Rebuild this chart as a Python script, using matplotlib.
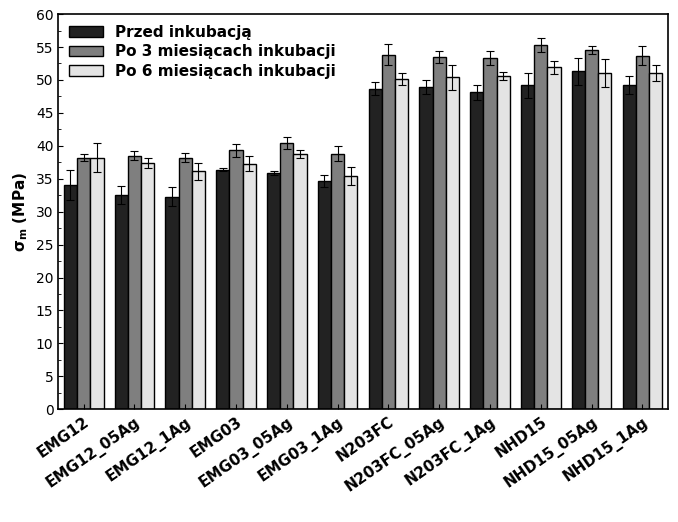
import matplotlib
matplotlib.use("Agg")
import matplotlib.pyplot as plt
import numpy as np

categories = ["EMG12","EMG12_05Ag","EMG12_1Ag","EMG03","EMG03_05Ag","EMG03_1Ag",
              "N203FC","N203FC_05Ag","N203FC_1Ag","NHD15","NHD15_05Ag","NHD15_1Ag"]
before = [34.1,32.5,32.3,36.4,35.9,34.7,48.7,48.9,48.1,49.2,51.3,49.2]
before_err = [2.3,1.4,1.4,0.3,0.3,0.9,1.0,1.1,1.1,1.9,2.0,1.4]
m3 = [38.2,38.5,38.2,39.3,40.4,38.8,53.8,53.5,53.3,55.3,54.6,53.7]
m3_err = [0.5,0.7,0.7,1.0,0.9,1.1,1.6,0.9,1.1,1.1,0.6,1.4]
m6 = [38.2,37.4,36.1,37.3,38.7,35.4,50.2,50.4,50.6,51.9,51.1,51.0]
m6_err = [2.2,0.8,1.3,1.1,0.6,1.4,0.9,1.9,0.6,1.0,2.1,1.2]
labels = ["Przed inkubacją","Po 3 miesiącach inkubacji","Po 6 miesiącach inkubacji"]
colors = ["#222222","#7f7f7f","#e4e4e4"]

fig = plt.figure(figsize=(6.78,5.22), dpi=100)
ax = fig.add_axes([0.086,0.216,0.899,0.757])
x = np.arange(len(categories))
w = 0.26
for i,(v,e) in enumerate([(before,before_err),(m3,m3_err),(m6,m6_err)]):
    ax.bar(x+(i-1)*w, v, w, yerr=e, color=colors[i], edgecolor="black", linewidth=1,
           capsize=3, error_kw=dict(elinewidth=0.8, capthick=0.8), label=labels[i])
ax.set_ylim(0,60)
ax.set_xlim(-0.5,len(categories)-0.5)
ax.set_yticks(np.arange(0,61,5))
ax.yaxis.set_minor_locator(matplotlib.ticker.MultipleLocator(2.5))
ax.set_xticks(x)
ax.set_xticklabels(categories, rotation=35, ha="right", rotation_mode="anchor",
                   fontsize=11, fontweight="bold")
ax.tick_params(axis="y", labelsize=10, direction="in", which="both")
ax.tick_params(axis="x", direction="in")
ax.set_ylabel(r"$\mathbf{\sigma_m}$ (MPa)", fontsize=11, fontweight="bold")
ax.legend(loc="upper left", frameon=False, prop=dict(size=11, weight="bold"),
          handlelength=2.2, borderaxespad=0.3, labelspacing=0.3)
for s in ax.spines.values():
    s.set_linewidth(1.2)
fig.savefig("out.png", dpi=100)
